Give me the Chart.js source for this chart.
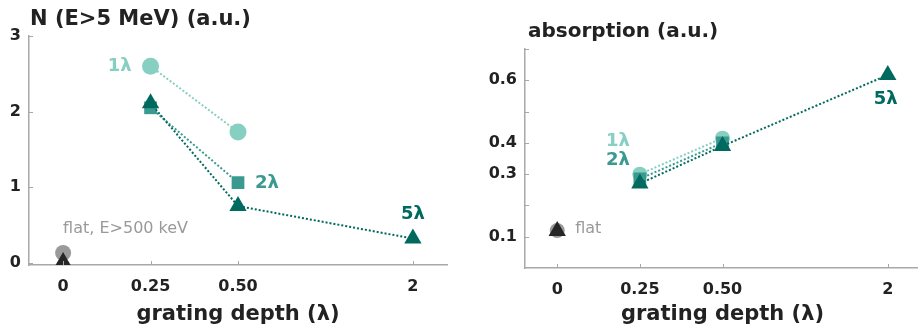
<!DOCTYPE html>
<html>
<head>
<meta charset="utf-8">
<script src="https://cdn.jsdelivr.net/npm/chart.js@4.4.0/dist/chart.umd.min.js"></script>
<style>
    body { margin: 0; background: #fff; overflow: hidden; width: 918px; height: 336px; position: relative; }
    canvas { position: absolute; top: 0; }
    #left-chart { left: 0; }
    #right-chart { left: 460px; }
</style>
</head>
<body>
<canvas id="left-chart" width="460" height="336"></canvas>
<canvas id="right-chart" width="470" height="336"></canvas>
<script>
// grating depth categories and where they sit on the stretched axis
const depthLabels = ['0', '0.25', '0.50', '2'];
const depthPos = [0, 1, 2, 4];

// N (E>5 MeV)
const nFlatCircle = [0.13, null, null, null];
const nFlatTri = [0.01, null, null, null];
const n1 = [null, 2.60, 1.73, null];
const n2 = [null, 2.05, 1.06, null];
const n5 = [null, 2.11, 0.75, 0.32];
const nTicks = [0, 1, 2, 3];

// absorption
const absFlatCircle = [0.12, null, null, null];
const absFlatTri = [0.118, null, null, null];
const abs1 = [null, 0.30, 0.415, null];
const abs2 = [null, 0.285, 0.40, null];
const abs5 = [null, 0.27, 0.39, 0.617];
const absTicks = [0.1, 0.2, 0.3, 0.4, 0.5, 0.6, 0.7];
const absLabelled = [0.1, 0.3, 0.4, 0.6];

const FONT = '"DejaVu Sans", sans-serif';
const light = '#86cfc1';
const mid = '#3a9a90';
const dark = '#006a5e';
const grey = 'rgba(120,120,120,0.75)';
const black = '#262626';
const axisColor = '#a8a8a8';

function points(values) {
    return depthPos.map(function (x, i) { return { x: x, y: values[i] }; })
        .filter(function (p) { return p.y !== null; });
}

function series(values, color, shape, radius) {
    return {
        data: points(values),
        borderColor: color,
        backgroundColor: color,
        pointBackgroundColor: color,
        pointBorderColor: color,
        pointStyle: shape,
        pointRadius: radius,
        pointBorderWidth: 0,
        borderWidth: 2,
        borderDash: [2, 2],
        showLine: true
    };
}

// titles, annotations and the small inward ticks
const decorPlugin = {
    id: 'decor',
    afterDraw(chart, args, opts) {
        const ctx = chart.ctx;
        const xs = chart.scales.x, ys = chart.scales.y;
        const area = chart.chartArea;
        ctx.save();
        ctx.strokeStyle = axisColor;
        ctx.lineWidth = 1;
        ctx.beginPath();
        depthPos.forEach(function (v) {
            const px = Math.round(xs.getPixelForValue(v)) + 0.5;
            ctx.moveTo(px, area.bottom);
            ctx.lineTo(px, area.bottom - 4);
        });
        opts.yMarks.forEach(function (v) {
            const py = Math.round(ys.getPixelForValue(v)) + 0.5;
            ctx.moveTo(area.left, py);
            ctx.lineTo(area.left + 4, py);
        });
        ctx.stroke();

        ctx.fillStyle = '#222';
        ctx.font = 'bold ' + opts.titleSize + 'px ' + FONT;
        ctx.textAlign = 'left';
        ctx.textBaseline = 'alphabetic';
        ctx.fillText(opts.title, area.left + opts.titleDx, opts.titleY);

        ctx.font = 'bold 21px ' + FONT;
        ctx.textAlign = 'center';
        ctx.fillText('grating depth (\u03bb)', (area.left + area.right) / 2, 320);

        opts.labels.forEach(function (l) {
            ctx.font = l.font;
            ctx.fillStyle = l.color;
            ctx.textAlign = l.align;
            ctx.textBaseline = 'middle';
            ctx.fillText(l.text, xs.getPixelForValue(depthPos[l.at]) + l.dx, ys.getPixelForValue(l.y) + l.dy);
        });
        ctx.restore();
    }
};

function makeOptions(cfg) {
    return {
        responsive: false,
        animation: false,
        layout: { padding: { left: 0, right: cfg.padRight, top: cfg.padTop, bottom: 0 } },
        plugins: {
            legend: { display: false },
            tooltip: { enabled: false },
            decor: cfg.decor
        },
        scales: {
            x: {
                type: 'linear',
                min: -0.39,
                max: 4.39,
                grid: { display: false, drawTicks: false },
                border: { display: true, color: axisColor, width: 1.5 },
                afterBuildTicks: function (scale) {
                    scale.ticks = depthPos.map(function (v) { return { value: v }; });
                },
                afterFit: function (scale) { scale.height = cfg.xHeight; },
                ticks: {
                    padding: 12,
                    color: '#222',
                    font: { family: FONT, size: 16, weight: 'bold' },
                    callback: function (value) {
                        const i = depthPos.indexOf(value);
                        return i >= 0 ? depthLabels[i] : '';
                    }
                }
            },
            y: {
                min: cfg.yMin,
                max: cfg.yMax,
                grid: { display: false, drawTicks: false },
                border: { display: true, color: axisColor, width: 1.5 },
                afterBuildTicks: function (scale) {
                    scale.ticks = cfg.yLabelled.map(function (v) { return { value: v }; });
                },
                afterFit: function (scale) { scale.width = cfg.yWidth; },
                ticks: {
                    padding: 8,
                    color: '#222',
                    font: { family: FONT, size: 16, weight: 'bold' },
                    callback: function (value) { return String(value); }
                }
            }
        }
    };
}

// N (E>5 MeV)
new Chart(document.getElementById('left-chart'), {
    type: 'scatter',
    data: {
        datasets: [
            series(nFlatTri, black, 'triangle', 10),
            series(nFlatCircle, grey, 'circle', 8),
            series(n5, dark, 'triangle', 10),
            series(n2, mid, 'rect', 9),
            series(n1, light, 'circle', 8.5)
        ]
    },
    options: makeOptions({
        padRight: 13, padTop: 36, xHeight: 71, yWidth: 29,
        yMin: -0.03, yMax: 3, yLabelled: nTicks,
        decor: {
            title: 'N (E>5 MeV) (a.u.)', titleDx: 1, titleY: 25, titleSize: 21,
            yMarks: nTicks,
            labels: [
                { text: '1\u03bb', at: 1, y: n1[1], dx: -19, dy: 0, align: 'right', color: light, font: 'bold 18px ' + FONT },
                { text: '2\u03bb', at: 2, y: n2[2], dx: 17, dy: 1, align: 'left', color: mid, font: 'bold 18px ' + FONT },
                { text: '5\u03bb', at: 3, y: n5[3], dx: 0, dy: -24, align: 'center', color: dark, font: 'bold 18px ' + FONT },
                { text: 'flat, E>500 keV', at: 0, y: nFlatCircle[0], dx: 0, dy: -24, align: 'left', color: '#9a9a9a', font: '16px ' + FONT }
            ]
        }
    }),
    plugins: [decorPlugin]
});

// absorption
new Chart(document.getElementById('right-chart'), {
    type: 'scatter',
    data: {
        datasets: [
            series(absFlatTri, black, 'triangle', 10),
            series(absFlatCircle, grey, 'circle', 7.5),
            series(abs5, dark, 'triangle', 10),
            series(abs2, mid, 'rect', 9),
            series(abs1, light, 'circle', 7.5)
        ]
    },
    options: makeOptions({
        padRight: 3, padTop: 49, xHeight: 68, yWidth: 65,
        yMin: 0, yMax: 0.7, yLabelled: absLabelled,
        decor: {
            title: 'absorption (a.u.)', titleDx: 3, titleY: 37, titleSize: 20,
            yMarks: absTicks,
            labels: [
                { text: '1\u03bb', at: 1, y: abs1[1], dx: -10, dy: -33, align: 'right', color: light, font: 'bold 18px ' + FONT },
                { text: '2\u03bb', at: 1, y: abs1[1], dx: -10, dy: -14, align: 'right', color: mid, font: 'bold 18px ' + FONT },
                { text: '5\u03bb', at: 3, y: abs5[3], dx: -2, dy: 24, align: 'center', color: dark, font: 'bold 18px ' + FONT },
                { text: 'flat', at: 0, y: absFlatTri[0], dx: 18, dy: -2, align: 'left', color: '#9a9a9a', font: '16px ' + FONT }
            ]
        }
    }),
    plugins: [decorPlugin]
});
</script>
</body>
</html>
